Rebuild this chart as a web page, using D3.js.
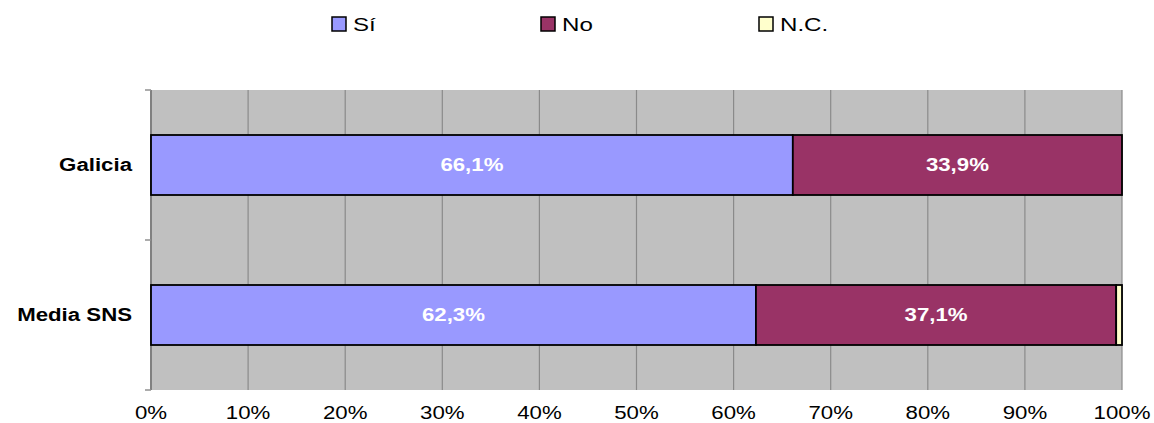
<!DOCTYPE html>
<html>
<head>
<meta charset="utf-8">
<script src="https://cdn.jsdelivr.net/npm/d3@7"></script>
<style>
  html, body { margin: 0; padding: 0; background: #fff; }
  svg { display: block; font-family: "Liberation Sans", Arial, sans-serif; }
</style>
</head>
<body>
<svg id="chart" width="1154" height="423"></svg>
<script>
// Survey responses by region (percent)
const categories = ["Galicia", "Media SNS"];
const seriesNames = ["Sí", "No", "N.C."];
const siValues = [66.1, 62.3];
const noValues = [33.9, 37.1];
const ncValues = [0.0, 0.6];
const xTicks = [0, 10, 20, 30, 40, 50, 60, 70, 80, 90, 100];
const colors = ["#9999ff", "#993366", "#ffffcc"];

const svg = d3.select("#chart");
const margin = { left: 151, right: 32, top: 90, bottom: 33 };
const width = 1154, height = 423;
const SX = 1.27; // wide lettering

const x = d3.scaleLinear().domain([0, 100]).range([margin.left, width - margin.right]);
const y = d3.scaleBand().domain(categories).range([margin.top, height - margin.bottom]).paddingInner(0).paddingOuter(0);
const barH = 60;

// text drawn with a horizontal stretch around its anchor point
function wideText(parent, tx, ty, str, opts) {
  return parent.append("text")
    .attr("transform", `translate(${tx},${ty}) scale(${SX},1)`)
    .attr("x", 0).attr("y", 0)
    .attr("text-anchor", opts.anchor || "start")
    .attr("dominant-baseline", "central")
    .attr("font-size", opts.size || 18)
    .attr("font-weight", opts.weight || "normal")
    .attr("fill", opts.fill || "#000")
    .text(str);
}

// plot background
svg.append("rect")
  .attr("x", x(0)).attr("y", margin.top)
  .attr("width", x(100) - x(0)).attr("height", y.range()[1] - margin.top)
  .attr("fill", "#c0c0c0");

// vertical gridlines
svg.append("g").selectAll("line").data(xTicks.slice(1)).join("line")
  .attr("x1", d => x(d)).attr("x2", d => x(d))
  .attr("y1", margin.top).attr("y2", y.range()[1])
  .attr("stroke", "#8a8a8a").attr("stroke-width", 1.2);

// x axis labels
const gx = svg.append("g");
xTicks.forEach(t => wideText(gx, x(t), 413, t + "%", { anchor: "middle", size: 17.5 }));

// y axis with category labels and ticks at band edges
svg.append("line")
  .attr("x1", x(0)).attr("x2", x(0))
  .attr("y1", margin.top).attr("y2", y.range()[1])
  .attr("stroke", "#808080").attr("stroke-width", 2);
const edges = [margin.top, margin.top + y.bandwidth(), y.range()[1]];
svg.append("g").selectAll("line").data(edges).join("line")
  .attr("x1", x(0) - 6).attr("x2", x(0))
  .attr("y1", d => d).attr("y2", d => d)
  .attr("stroke", "#909090").attr("stroke-width", 1.5);
const gy = svg.append("g");
categories.forEach(c => wideText(gy, x(0) - 19, y(c) + y.bandwidth() / 2, c,
  { anchor: "end", size: 17.5, weight: "bold" }));

// stacked bars
const rows = categories.map((c, i) => ({ cat: c, vals: [siValues[i], noValues[i], ncValues[i]] }));
rows.forEach(r => {
  let acc = 0;
  r.vals.forEach((v, k) => {
    const x0 = acc; acc += v;
    if (v <= 0) return;
    const yc = y(r.cat) + y.bandwidth() / 2;
    svg.append("rect")
      .attr("x", x(x0)).attr("y", yc - barH / 2)
      .attr("width", x(acc) - x(x0)).attr("height", barH)
      .attr("fill", colors[k]).attr("stroke", "#000").attr("stroke-width", 1.8);
    if (v >= 5) {
      wideText(svg, (x(x0) + x(acc)) / 2, yc,
        d3.format(".1f")(v).replace(".", ",") + "%",
        { anchor: "middle", size: 17.5, weight: "bold", fill: "#fff" });
    }
  });
});

// legend
const legendX = [332, 541, 759];
const lg = svg.append("g");
seriesNames.forEach((s, i) => {
  lg.append("rect").attr("x", legendX[i]).attr("y", 17).attr("width", 14).attr("height", 14)
    .attr("fill", colors[i]).attr("stroke", "#000").attr("stroke-width", 1.5);
  wideText(lg, legendX[i] + 21, 24, s, { size: 19 });
});
</script>
</body>
</html>
